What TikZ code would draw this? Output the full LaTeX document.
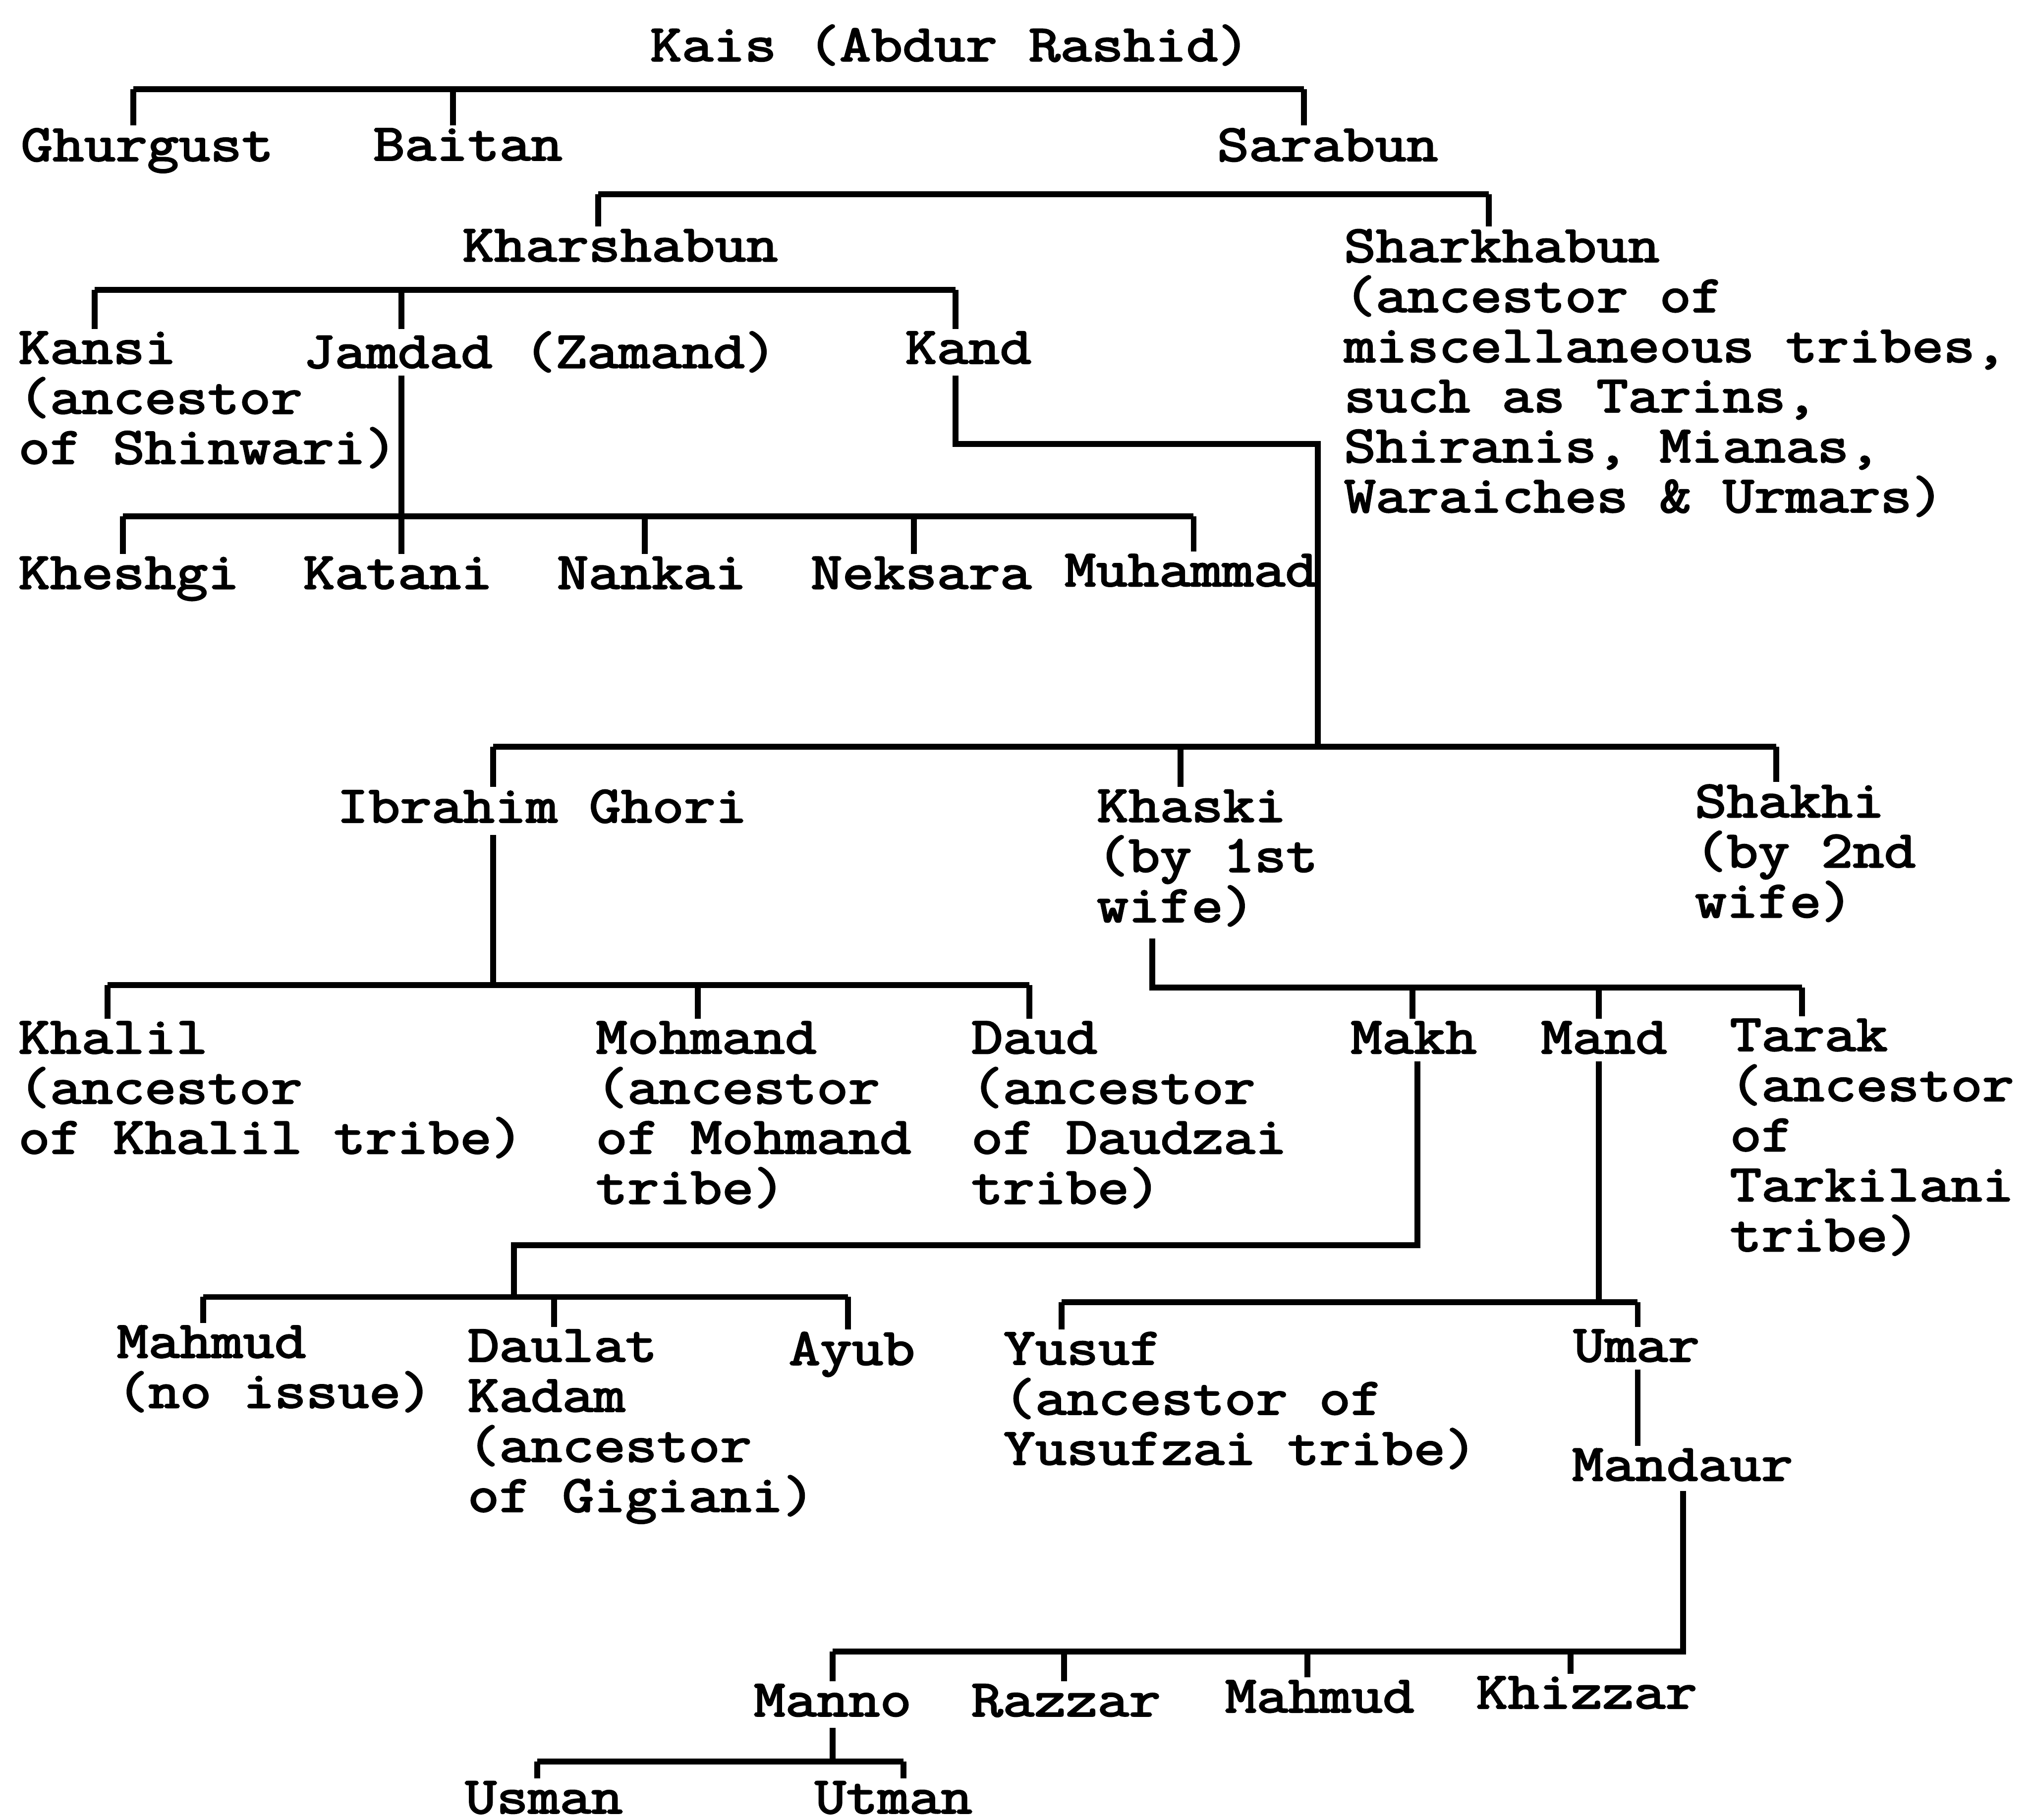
\documentclass[tikz,border=0pt]{standalone}
\usepackage{fontspec}
\newfontfamily\typewriter{Latin Modern Mono}[FakeStretch=1.18, FakeBold=3]
\tikzset{
  kin/.style={anchor=north west, inner sep=0pt, align=left,
    font=\typewriter\fontsize{11.4pt}{11pt}\selectfont},
}
\begin{document}
\begin{tikzpicture}[x=0.01cm, y=-0.01cm, line width=1.3pt]
  \useasboundingbox (0,0) rectangle (1568,1406);
  % names, row by row
  \node[kin] (kais) at (500,17) {Kais (Abdur Rashid)};
  \node[kin] (ghurgust) at (14,97) {Ghurgust};
  \node[kin] (baitan) at (286,97) {Baitan};
  \node[kin] (sarabun) at (938,97) {Sarabun};
  \node[kin] (kharshabun) at (355,175) {Kharshabun};
  \node[kin] (sharkhabun) at (1036,175) {Sharkhabun\\(ancestor of\\miscellaneous tribes,\\such as Tarins,\\Shiranis, Mianas,\\Waraiches \& Urmars)};
  \node[kin] (kansi) at (12,254) {Kansi\\(ancestor\\of Shinwari)};
  \node[kin] (jamdad) at (232,254) {Jamdad (Zamand)};
  \node[kin] (kand) at (697,254) {Kand};
  \node[kin] (kheshgi) at (12,428) {Kheshgi};
  \node[kin] (katani) at (232,428) {Katani};
  \node[kin] (nankai) at (428,428) {Nankai};
  \node[kin] (neksara) at (624,428) {Neksara};
  \node[kin] (muhammad) at (820,426) {Muhammad};
  \node[kin] (ibrahim) at (258,608) {Ibrahim Ghori};
  \node[kin] (khaski) at (845,608) {Khaski\\(by 1st\\wife)};
  \node[kin] (shakhi) at (1307,604) {Shakhi\\(by 2nd\\wife)};
  \node[kin] (khalil) at (12,787) {Khalil\\(ancestor\\of Khalil tribe)};
  \node[kin] (mohmand) at (458,787) {Mohmand\\(ancestor\\of Mohmand\\tribe)};
  \node[kin] (daud) at (748,787) {Daud\\(ancestor\\of Daudzai\\tribe)};
  \node[kin] (makh) at (1041,787) {Makh};
  \node[kin] (mand) at (1188,787) {Mand};
  \node[kin] (tarak) at (1334,785) {Tarak\\(ancestor\\of\\Tarkilani\\tribe)};
  \node[kin] (mahmud) at (88,1022) {Mahmud\\(no issue)};
  \node[kin] (daulat) at (359,1025) {Daulat\\Kadam\\(ancestor\\of Gigiani)};
  \node[kin] (ayub) at (607,1027) {Ayub};
  \node[kin] (yusuf) at (773,1027) {Yusuf\\(ancestor of\\Yusufzai tribe)};
  \node[kin] (umar) at (1213,1025) {Umar};
  \node[kin] (mandaur) at (1212,1117) {Mandaur};
  \node[kin] (manno) at (580,1299) {Manno};
  \node[kin] (razzar) at (748,1299) {Razzar};
  \node[kin] (mahmudb) at (944,1296) {Mahmud};
  \node[kin] (khizzar) at (1138,1293) {Khizzar};
  \node[kin] (usman) at (357,1374) {Usman};
  \node[kin] (utman) at (627,1374) {Utman};
  % sons of Kais
  \draw (103,69) -- (1007,69);
  \foreach \x/\n in {103/ghurgust,350/baitan,1007/sarabun}
    \draw (\x,69) -- (\x,69 |- \n.north);
  % sons of Sarabun
  \draw (462,150) -- (1150,150);
  \foreach \x/\n in {462/kharshabun,1150/sharkhabun}
    \draw (\x,150) -- (\x,150 |- \n.north);
  % sons of Kharshabun
  \draw (73,224) -- (738,224);
  \foreach \x/\n in {73/kansi,310/jamdad,738/kand}
    \draw (\x,224) -- (\x,224 |- \n.north);
  % sons of Jamdad
  \draw (310,290) -- (310,290 |- katani.north);
  \draw (95,399) -- (922,399);
  \foreach \x/\n in {95/kheshgi,498/nankai,706/neksara,922/muhammad}
    \draw (\x,399) -- (\x,399 |- \n.north);
  % sons of Kand
  \draw (738,290) -- (738,343) -- (1018,343) -- (1018,577);
  \draw (381,577) -- (1372,577);
  \foreach \x/\n in {381/ibrahim,912/khaski,1372/shakhi}
    \draw (\x,577) -- (\x,577 |- \n.north);
  % sons of Ibrahim Ghori
  \draw (381,645) -- (381,761);
  \draw (83,761) -- (795,761);
  \foreach \x/\n in {83/khalil,539/mohmand,795/daud}
    \draw (\x,761) -- (\x,761 |- \n.north);
  % sons of Khaski
  \draw (890,725) -- (890,763) -- (1392,763);
  \foreach \x/\n in {1091/makh,1235/mand,1392/tarak}
    \draw (\x,763) -- (\x,763 |- \n.north);
  % sons of Makh
  \draw (1095,820) -- (1095,962) -- (397,962) -- (397,1002);
  \draw (157,1002) -- (655,1002);
  \foreach \x/\n in {157/mahmud,428/daulat,655/ayub}
    \draw (\x,1002) -- (\x,1002 |- \n.north);
  % sons of Mand
  \draw (1235,820) -- (1235,1006);
  \draw (820,1006) -- (1265,1006);
  \foreach \x/\n in {820/yusuf,1265/umar}
    \draw (\x,1006) -- (\x,1006 |- \n.north);
  % Umar to Mandaur
  \draw (1265,1058) -- (1265,1058 |- mandaur.north);
  % sons of Mandaur
  \draw (1300,1152) -- (1300,1276) -- (643,1276);
  \foreach \x/\n in {643/manno,822/razzar,1010/mahmudb,1213/khizzar}
    \draw (\x,1276) -- (\x,1276 |- \n.north);
  % sons of Manno
  \draw (643,1335) -- (643,1361);
  \draw (415,1361) -- (698,1361);
  \foreach \x/\n in {415/usman,698/utman}
    \draw (\x,1361) -- (\x,1361 |- \n.north);
\end{tikzpicture}
\end{document}
